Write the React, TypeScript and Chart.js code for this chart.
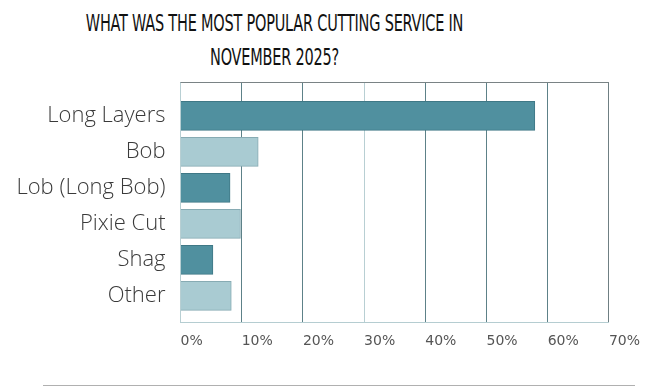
import React, { useEffect, useRef } from "react";
import { Chart, registerables } from "chart.js";

Chart.register(...registerables);

const categories = ["Long Layers", "Bob", "Lob (Long Bob)", "Pixie Cut", "Shag", "Other"];
const values = [57.9, 12.7, 8.1, 9.8, 5.3, 8.3];
const xTicks = [0, 10, 20, 30, 40, 50, 60, 70];
const titleLines = ["WHAT WAS THE MOST POPULAR CUTTING SERVICE IN", "NOVEMBER 2025?"];

const DARK = "#50909f";
const DARK_BORDER = "#3f7886";
const LIGHT = "#a9cbd2";
const LIGHT_BORDER = "#87abb3";

const topLinePlugin = {
  id: "topLine",
  afterDraw(chart: any) {
    const { ctx, chartArea } = chart;
    ctx.save();
    ctx.strokeStyle = "#7a8385";
    ctx.lineWidth = 1;
    ctx.beginPath();
    ctx.moveTo(chartArea.left, Math.round(chartArea.top) + 0.5);
    ctx.lineTo(chartArea.right, Math.round(chartArea.top) + 0.5);
    ctx.stroke();
    ctx.restore();
  },
};

export default function App() {
  const ref = useRef<HTMLCanvasElement | null>(null);
  useEffect(() => {
    if (!ref.current) return;
    const chart = new Chart(ref.current, {
      type: "bar",
      data: {
        datasets: [
          {
            data: values.map((v, i) => ({ x: v, y: i })) as any,
            backgroundColor: values.map((_, i) => (i % 2 === 0 ? DARK : LIGHT)),
            borderColor: values.map((_, i) => (i % 2 === 0 ? DARK_BORDER : LIGHT_BORDER)),
            borderWidth: 1,
            barThickness: 29,
          },
        ],
      },
      plugins: [topLinePlugin],
      options: {
        indexAxis: "y",
        animation: false,
        responsive: true,
        maintainAspectRatio: false,
        layout: { padding: { top: 82, right: 41, left: 0, bottom: 0 } },
        plugins: {
          legend: { display: false },
          tooltip: { enabled: false },
          title: { display: false },
        },
        scales: {
          x: {
            type: "linear",
            min: 0,
            max: 70,
            afterBuildTicks: (scale: any) => {
              scale.ticks = xTicks.map((v) => ({ value: v }));
            },
            afterFit: (scale: any) => {
              scale.height = 67.5;
            },
            ticks: {
              stepSize: 10,
              align: "start",
              padding: 10,
              color: "#555",
              font: { family: "'DejaVu Sans', sans-serif", size: 14 },
              callback: (v: any) => v + "%",
            },
            grid: {
              drawTicks: false,
              color: (ctx: any) => {
                const v = ctx.tick ? ctx.tick.value : 0;
                if (v === 0 || v === 30) return "#b8cfd3";
                if (v === 70) return "#6f7f83";
                return "#5d8188";
              },
            },
            border: { display: true, color: "#b5cdd1" },
          },
          y: {
            type: "linear",
            reverse: true,
            offset: false,
            grace: 0,
            min: -0.94,
            max: 5.74,
            afterBuildTicks: (scale: any) => {
              scale.ticks = categories.map((_, i) => ({ value: i }));
            },
            afterFit: (scale: any) => {
              scale.width = 180.5;
            },
            ticks: {
              padding: 15,
              color: "#3a3a3a",
              font: { family: "'Open Sans', sans-serif", size: 22, weight: "300" },
              callback: (v: any) => categories[v] ?? "",
            },
            grid: { display: false, drawTicks: false },
            border: { display: false },
          },
        },
      },
    });
    return () => chart.destroy();
  }, []);

  return (
    <div style={{ position: "fixed", left: 0, top: 0, width: 650, height: 390, background: "#fff" }}>
      <div
        style={{
          position: "absolute",
          left: -100,
          width: 749,
          top: 6,
          textAlign: "center",
          whiteSpace: "nowrap",
          fontFamily: "'Liberation Sans Narrow', 'DejaVu Sans Condensed', sans-serif",
          fontSize: 23,
          lineHeight: "34px",
          color: "#111",
          transform: "scaleX(0.70)",
          letterSpacing: "-0.3px",
        }}
      >
        {titleLines.map((t, i) => (
          <div key={i}>{t}</div>
        ))}
      </div>
      <div style={{ position: "absolute", left: 0, top: 0, width: 650, height: 390 }}>
        <canvas ref={ref} />
      </div>
      <div style={{ position: "absolute", left: 43, top: 385, width: 592, height: 1, background: "#b0b0b0" }} />
    </div>
  );
}
